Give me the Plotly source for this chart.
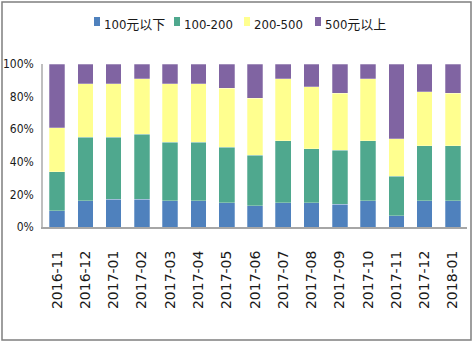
import plotly.graph_objects as go

# Monthly share of orders by price band (percent of each month)
months = ["2016-11", "2016-12", "2017-01", "2017-02", "2017-03", "2017-04", "2017-05",
          "2017-06", "2017-07", "2017-08", "2017-09", "2017-10", "2017-11", "2017-12", "2018-01"]
below_100 = [10, 16, 17, 17, 16, 16, 15, 13, 15, 15, 14, 16, 7, 16, 16]
band_100_200 = [24, 39, 38, 40, 36, 36, 34, 31, 38, 33, 33, 37, 24, 34, 34]
band_200_500 = [27, 33, 33, 34, 36, 36, 36, 35, 38, 38, 35, 38, 23, 33, 32]
above_500 = [39, 12, 12, 9, 12, 12, 15, 21, 9, 14, 18, 9, 46, 17, 18]

series_names = ["100元以下", "100-200", "200-500", "500元以上"]
series_values = [below_100, band_100_200, band_200_500, above_500]
colors = ["#4F81BD", "#4FA88E", "#FFFF8F", "#8064A2"]

y_ticks = [0, 20, 40, 60, 80, 100]
y_tick_labels = ["0%", "20%", "40%", "60%", "80%", "100%"]

W, H = 474, 343
L, R, T, B = 43, 7, 64, 116
PW, PH = W - L - R, H - T - B

def px(x):
    return (x - L) / PW

def py(y):
    return (H - B - y) / PH

fig = go.Figure()
for name, vals, col in zip(series_names, series_values, colors):
    fig.add_trace(go.Bar(
        x=months, y=vals, name=name,
        marker=dict(color=col, line=dict(color="rgba(255,255,255,0.45)", width=0.6)),
        showlegend=False,
    ))

shapes = [
    # outer frame of the chart
    dict(type="rect", xref="paper", yref="paper",
         x0=px(2), x1=px(471), y0=py(340), y1=py(2),
         line=dict(color="#7F7F7F", width=1.5), fillcolor="rgba(0,0,0,0)", layer="below"),
]
annotations = []

# hand-placed legend row
legend_sq_x = [94, 174, 244, 315]
for name, col, sx in zip(series_names, colors, legend_sq_x):
    shapes.append(dict(type="rect", xref="paper", yref="paper",
                       x0=px(sx), x1=px(sx + 6), y0=py(26), y1=py(17),
                       fillcolor=col, line=dict(width=0)))
    annotations.append(dict(text=name, xref="paper", yref="paper",
                            x=px(sx + 8), y=py(24), xanchor="left", yanchor="middle",
                            showarrow=False,
                            font=dict(family="DejaVu Sans Condensed, Noto Sans CJK SC",
                                      size=13, color="#1a1a1a")))

fig.update_layout(
    width=W, height=H,
    margin=dict(l=L, r=R, t=T, b=B, pad=0),
    paper_bgcolor="white", plot_bgcolor="white",
    barmode="stack", bargap=0.45,
    shapes=shapes, annotations=annotations,
    xaxis=dict(
        type="category", tickangle=-90, showgrid=False, automargin=False,
        showline=True, linecolor="#A6A6A6", linewidth=2,
        ticks="", ticklabelstandoff=16,
        tickfont=dict(family="DejaVu Sans", size=14, color="#1a1a1a"),
    ),
    yaxis=dict(
        range=[0, 100], tickvals=y_ticks, ticktext=y_tick_labels, showgrid=False,
        automargin=False,
        showline=True, linecolor="#BFBFBF", linewidth=1.5,
        ticks="outside", ticklen=5, tickcolor="rgba(0,0,0,0)", zeroline=False,
        tickfont=dict(family="DejaVu Sans Condensed", size=12, color="#1a1a1a"),
    ),
)

fig.write_html("out.html")
